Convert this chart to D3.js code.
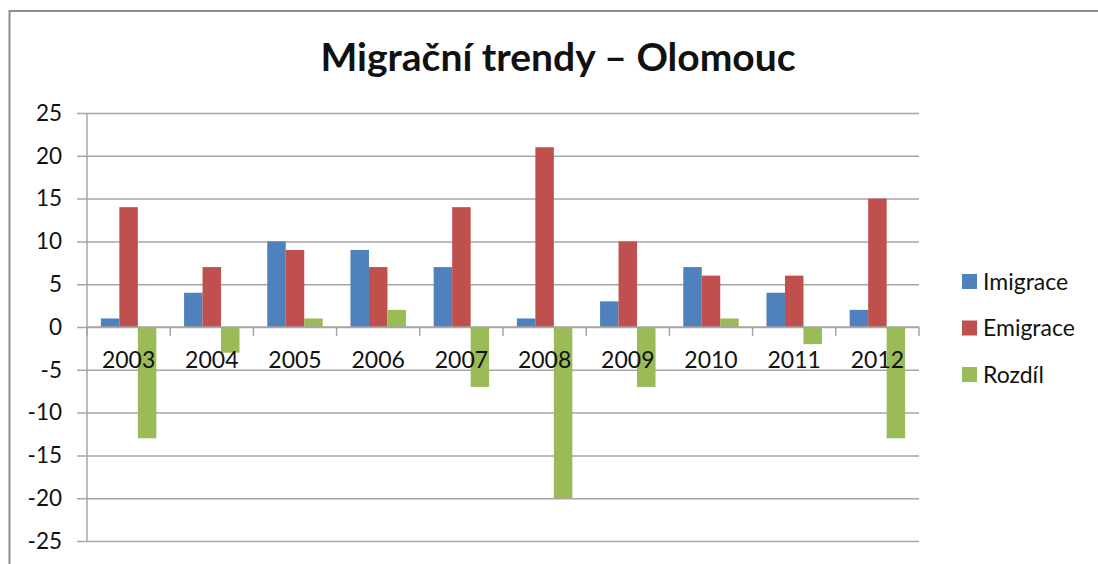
<!DOCTYPE html>
<html>
<head>
<meta charset="utf-8">
<script src="https://cdn.jsdelivr.net/npm/d3@7"></script>
<style>
  body { margin: 0; background: #fff; }
  svg text { font-family: Lato, "Open Sans", sans-serif; fill: #111; }
</style>
</head>
<body>
<div id="chart"></div>
<script>
// data
var years = ["2003", "2004", "2005", "2006", "2007", "2008", "2009", "2010", "2011", "2012"];
var seriesNames = ["Imigrace", "Emigrace", "Rozdíl"];
var imigrace = [1, 4, 10, 9, 7, 1, 3, 7, 4, 2];
var emigrace = [14, 7, 9, 7, 14, 21, 10, 6, 6, 15];
var rozdil = [-13, -3, 1, 2, -7, -20, -7, 1, -2, -13];
var yTicks = [-25, -20, -15, -10, -5, 0, 5, 10, 15, 20, 25];
var colors = ["#4f81bd", "#c0504d", "#9bbb59"];

var width = 1098, height = 564;
var plot = { left: 87, right: 919, top: 113, bottom: 541 };

var svg = d3.select("#chart")
  .append("svg")
  .attr("width", width)
  .attr("height", height);

// outer chart border
svg.append("rect")
  .attr("x", 9.5)
  .attr("y", 11)
  .attr("width", 1100)
  .attr("height", 600)
  .attr("fill", "none")
  .attr("stroke", "#8c8c8c")
  .attr("stroke-width", 2);

svg.append("text")
  .attr("x", 558)
  .attr("y", 71)
  .attr("text-anchor", "middle")
  .style("font-size", "39px")
  .style("font-weight", "bold")
  .text("Migrační trendy – Olomouc");

var yScale = d3.scaleLinear()
  .domain([-25, 25])
  .range([plot.bottom, plot.top]);

var x0 = d3.scaleBand()
  .domain(years)
  .range([plot.left, plot.right])
  .padding(0);

var bw = x0.bandwidth();
var x1 = d3.scaleBand()
  .domain(seriesNames)
  .range([bw / 6, bw * 5 / 6])
  .padding(0);

// y axis with grid lines
var yAxis = d3.axisLeft(yScale)
  .tickValues(yTicks)
  .tickFormat(d => String(d))
  .tickSizeInner(-(plot.right - plot.left + 10))
  .tickSizeOuter(0)
  .tickPadding(15);

var yG = svg.append("g")
  .attr("transform", `translate(${plot.left - 10},0)`)
  .call(yAxis);
yG.select(".domain").remove();
yG.selectAll("line").attr("stroke", "#a6a6a6").attr("stroke-width", 1.5);
yG.selectAll("text")
  .style("font-size", "22.5px")
  .attr("font-family", null);

svg.append("line")
  .attr("x1", plot.left).attr("x2", plot.left)
  .attr("y1", plot.top).attr("y2", plot.bottom)
  .attr("stroke", "#a6a6a6")
  .attr("stroke-width", 1.5);

// bars
var rows = years.map(function(y, i) {
  return { year: y, values: [imigrace[i], emigrace[i], rozdil[i]] };
});

var groups = svg.selectAll("g.year")
  .data(rows)
  .enter()
  .append("g")
  .attr("class", "year")
  .attr("transform", d => `translate(${x0(d.year)},0)`);

groups.selectAll("rect")
  .data(d => d.values.map((v, k) => ({ name: seriesNames[k], value: v, k: k })))
  .enter()
  .append("rect")
  .attr("x", d => x1(d.name))
  .attr("width", x1.bandwidth())
  .attr("y", d => yScale(Math.max(0, d.value)))
  .attr("height", d => Math.abs(yScale(d.value) - yScale(0)))
  .attr("fill", d => colors[d.k]);

// category axis at zero
var zeroY = yScale(0);
var bounds = years.map(d => x0(d)).concat([plot.right]);
svg.selectAll("line.xtick")
  .data(bounds)
  .enter()
  .append("line")
  .attr("class", "xtick")
  .attr("x1", d => d).attr("x2", d => d)
  .attr("y1", zeroY).attr("y2", zeroY + 9)
  .attr("stroke", "#a6a6a6")
  .attr("stroke-width", 1.5);

svg.append("line")
  .attr("x1", plot.left).attr("x2", plot.right)
  .attr("y1", zeroY).attr("y2", zeroY)
  .attr("stroke", "#a6a6a6")
  .attr("stroke-width", 1.5);

svg.selectAll("text.xlabel")
  .data(years)
  .enter()
  .append("text")
  .attr("class", "xlabel")
  .attr("x", d => x0(d) + bw / 2)
  .attr("y", zeroY + 41)
  .attr("text-anchor", "middle")
  .style("font-size", "23px")
  .text(d => d);

// legend
var legend = svg.selectAll("g.legend")
  .data(seriesNames)
  .enter()
  .append("g")
  .attr("class", "legend")
  .attr("transform", (d, i) => `translate(962,${281 + i * 46.5})`);

legend.append("rect")
  .attr("x", 0)
  .attr("y", -7)
  .attr("width", 15)
  .attr("height", 15)
  .attr("fill", (d, i) => colors[i]);

legend.append("text")
  .attr("x", 21)
  .attr("y", 8.5)
  .style("font-size", "23px")
  .text(d => d);
</script>
</body>
</html>
